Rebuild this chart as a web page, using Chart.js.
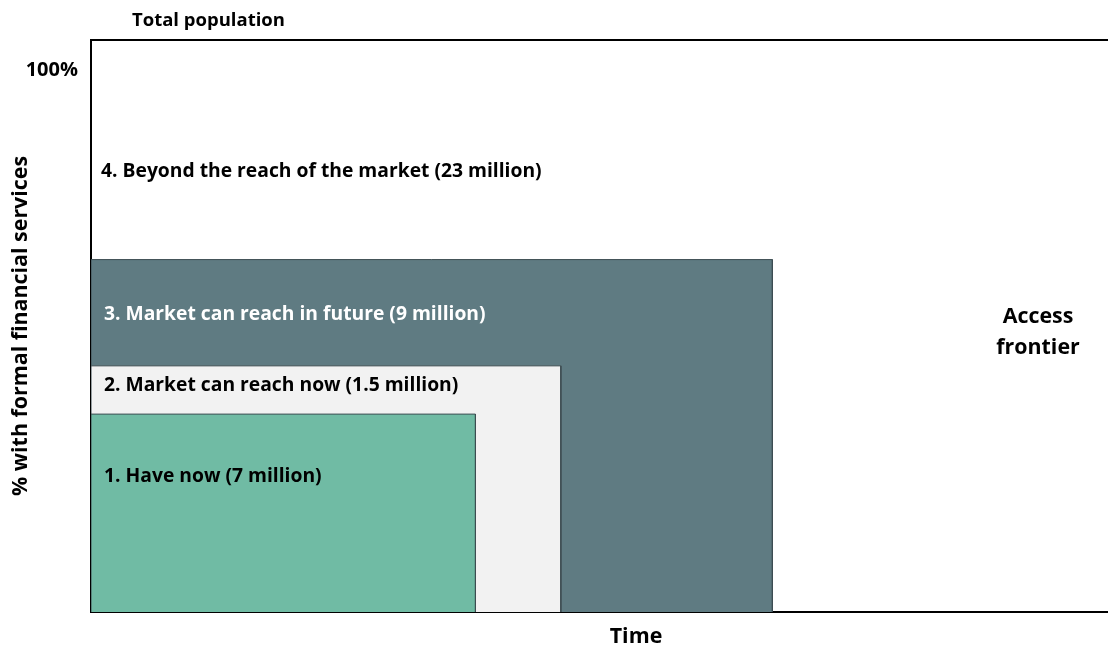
<!DOCTYPE html>
<html>
<head>
<meta charset="utf-8">
<script src="https://cdn.jsdelivr.net/npm/chart.js@4.4.1/dist/chart.umd.min.js"></script>
<style>
    html, body { margin: 0; padding: 0; background: #ffffff; }
    #wrap { width: 1108px; height: 645px; }
</style>
</head>
<body>
<div id="wrap"><canvas id="access-chart" width="1108" height="645"></canvas></div>
<script>
// segments, drawn from the largest to the smallest
const segmentNames = ['3. Market can reach in future (9 million)', '2. Market can reach now (1.5 million)', '1. Have now (7 million)'];
const segmentTime = [67.0, 46.2, 37.8];      // reach along the time axis
const segmentShare = [65.0, 45.4, 36.5];     // % with formal financial services
const segmentColors = ['#5f7b82', '#f2f2f2', '#70bba4'];
const segmentTextColors = ['#ffffff', '#000000', '#000000'];

const outerLabel = '4. Beyond the reach of the market (23 million)';
const frontierLabel = ['Access', 'frontier'];
const yTicks = [100];

const FONT = '"Open Sans", Lato, sans-serif';

function rectPoints(w, h) {
    return [{x: 0, y: 0}, {x: 0, y: h}, {x: w, y: h}, {x: w, y: 0}];
}

const datasets = segmentNames.map((name, i) => ({
    label: name,
    data: rectPoints(segmentTime[i], segmentShare[i]),
    backgroundColor: segmentColors[i],
    borderColor: '#3d4d52',
    borderWidth: 1,
    fill: 'origin',
    pointRadius: 0,
    tension: 0,
    order: segmentNames.length - i
}));

const labelsPlugin = {
    id: 'labels',
    afterDatasetsDraw(chart) {
        const ctx = chart.ctx;
        const area = chart.chartArea;
        ctx.save();
        ctx.textBaseline = 'middle';

        // frame along the top
        ctx.strokeStyle = '#000000';
        ctx.lineWidth = 2;
        ctx.beginPath();
        ctx.moveTo(area.left - 1, area.top);
        ctx.lineTo(area.right, area.top);
        ctx.stroke();

        ctx.font = 'bold 19.3px ' + FONT;
        const rowY = [315, 386, 477];
        segmentNames.forEach((name, i) => {
            ctx.fillStyle = segmentTextColors[i];
            ctx.textAlign = 'left';
            ctx.fillText(name, area.left + 13, rowY[i]);
        });

        ctx.fillStyle = '#000000';
        ctx.fillText(outerLabel, area.left + 10, 172);
        ctx.font = 'bold 18.5px ' + FONT;
        ctx.fillText('Total population', 132, 21);

        ctx.font = 'bold 21.4px ' + FONT;
        ctx.textAlign = 'center';
        ctx.fillText(frontierLabel[0], 1038, 317);
        ctx.fillText(frontierLabel[1], 1038, 348);
        ctx.fillText('Time', 636, 637);
        ctx.restore();
    }
};

new Chart(document.getElementById('access-chart'), {
    type: 'line',
    data: {datasets: datasets},
    options: {
        responsive: false,
        animation: false,
        layout: {padding: {top: 40, right: 0, left: 0, bottom: 0}},
        plugins: {
            legend: {display: false},
            tooltip: {enabled: false},
            title: {display: false}
        },
        scales: {
            x: {
                type: 'linear',
                min: 0,
                max: 100,
                grid: {display: false},
                border: {display: true, color: '#000000', width: 2},
                ticks: {display: false},
                afterFit: (scale) => { scale.height = 33; }
            },
            y: {
                type: 'linear',
                min: 0,
                max: 105.5,
                grid: {display: false, drawTicks: false},
                border: {display: true, color: '#000000', width: 2},
                afterBuildTicks: (scale) => { scale.ticks = yTicks.map(v => ({value: v})); },
                ticks: {
                    color: '#000000',
                    padding: 13,
                    font: {family: FONT, size: 20, weight: 'bold'},
                    callback: (v) => v + '%'
                },
                title: {
                    display: true,
                    text: '% with formal financial services',
                    color: '#000000',
                    font: {family: FONT, size: 21.4, weight: 'bold'},
                    padding: {top: 8, bottom: 0}
                },
                afterFit: (scale) => { scale.width = 91; }
            }
        }
    },
    plugins: [labelsPlugin]
});
</script>
</body>
</html>
